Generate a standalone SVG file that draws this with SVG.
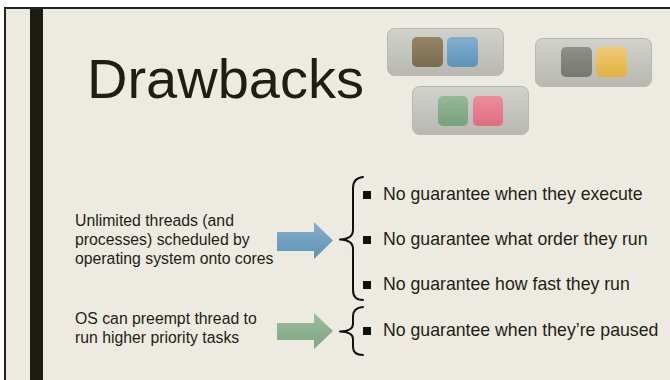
<svg xmlns="http://www.w3.org/2000/svg" width="670" height="380" viewBox="0 0 670 380">
<defs>
<style>
.txt{font-family:"Liberation Sans",Arial,sans-serif;fill:#1e1e14}
.left{font-size:15.8px}
.bul{font-size:17.7px}
.brace{fill:none;stroke:#111;stroke-width:2;stroke-linecap:round;stroke-linejoin:round}
.tile{fill:url(#tileG);stroke:#b8b8b0;stroke-width:1}
</style>
<linearGradient id="tileG" x1="0" y1="0" x2="0" y2="1"><stop offset="0" stop-color="#d2d2cd"/><stop offset="1" stop-color="#b8b8b1"/></linearGradient>
<linearGradient id="brownG" x1="0" y1="0" x2="0" y2="1"><stop offset="0" stop-color="#948569"/><stop offset="1" stop-color="#7a6b4e"/></linearGradient>
<linearGradient id="blueG" x1="0" y1="0" x2="0" y2="1"><stop offset="0" stop-color="#82b0cf"/><stop offset="1" stop-color="#5e93b6"/></linearGradient>
<linearGradient id="greenG" x1="0" y1="0" x2="0" y2="1"><stop offset="0" stop-color="#97b898"/><stop offset="1" stop-color="#78a07c"/></linearGradient>
<linearGradient id="pinkG" x1="0" y1="0" x2="0" y2="1"><stop offset="0" stop-color="#ec8d9b"/><stop offset="1" stop-color="#de6d80"/></linearGradient>
<linearGradient id="grayG" x1="0" y1="0" x2="0" y2="1"><stop offset="0" stop-color="#8f8f8a"/><stop offset="1" stop-color="#777772"/></linearGradient>
<linearGradient id="yellowG" x1="0" y1="0" x2="0" y2="1"><stop offset="0" stop-color="#f0cb75"/><stop offset="1" stop-color="#e3b042"/></linearGradient>
<linearGradient id="arrowBlue" x1="0" y1="0" x2="0" y2="1"><stop offset="0" stop-color="#84b0cc"/><stop offset="1" stop-color="#5f92b3"/></linearGradient>
<linearGradient id="arrowGreen" x1="0" y1="0" x2="0" y2="1"><stop offset="0" stop-color="#9dbd9f"/><stop offset="1" stop-color="#7ea582"/></linearGradient>
</defs>
<rect x="0" y="0" width="670" height="380" fill="#ffffff"/>
<rect x="4" y="7" width="666" height="373" fill="#edeae2"/>
<line x1="4" y1="8" x2="670" y2="8" stroke="#222" stroke-width="2"/>
<line x1="5" y1="8" x2="5" y2="380" stroke="#222" stroke-width="2"/>
<rect x="30" y="9" width="13" height="371" fill="#1c1c10"/>

<text class="txt" x="87" y="98" font-size="56">Drawbacks</text>

<g id="tile1">
<rect class="tile" x="387.5" y="28.5" width="116" height="47" rx="7"/>
<rect x="412" y="37" width="31" height="30" rx="5" fill="url(#brownG)"/>
<rect x="447" y="37" width="31" height="30" rx="5" fill="url(#blueG)"/>
</g>
<g id="tile2">
<rect class="tile" x="412.5" y="86.5" width="116" height="48" rx="7"/>
<rect x="438" y="96" width="30" height="30" rx="5" fill="url(#greenG)"/>
<rect x="473" y="96" width="30" height="30" rx="5" fill="url(#pinkG)"/>
</g>
<g id="tile3">
<rect class="tile" x="535.5" y="38.5" width="116" height="48" rx="7"/>
<rect x="561" y="47" width="31" height="30" rx="5" fill="url(#grayG)"/>
<rect x="596" y="47" width="31" height="30" rx="5" fill="url(#yellowG)"/>
</g>

<g id="cause1">
<text class="txt left" x="75" y="225.5">Unlimited threads (and</text>
<text class="txt left" x="75" y="244.5">processes) scheduled by</text>
<text class="txt left" x="75" y="263.5">operating system onto cores</text>
</g>
<g id="cause2">
<text class="txt left" x="75" y="323.5">OS can preempt thread to</text>
<text class="txt left" x="75" y="342.5">run higher priority tasks</text>
</g>

<g id="connectors">
<polygon points="277,232 314,232 314,222 333,240.5 314,259 314,251 277,251" fill="url(#arrowBlue)"/>
<polygon points="277,323 314,323 314,313 333,331 314,349 314,340 277,340" fill="url(#arrowGreen)"/>
<path class="brace" d="M363,177 Q353,178 353,188 L353,230 Q353,239 340,239.5 Q353,240 353,249 L353,290 Q353,300 363,300"/>
<path class="brace" d="M363,307 Q353,308 353,316 L353,324 Q353,331 340,331.5 Q353,332 353,339 L353,347 Q353,355 363,355"/>
</g>

<g id="effects">
<rect x="363" y="191" width="8" height="8" fill="#111"/>
<text class="txt bul" x="383" y="200">No guarantee when they execute</text>
<rect x="363" y="236" width="8" height="8" fill="#111"/>
<text class="txt bul" x="383" y="245">No guarantee what order they run</text>
<rect x="363" y="281" width="8" height="8" fill="#111"/>
<text class="txt bul" x="383" y="290">No guarantee how fast they run</text>
<rect x="363" y="327" width="8" height="8" fill="#111"/>
<text class="txt bul" x="383" y="336">No guarantee when they’re paused</text>
</g>
</svg>
